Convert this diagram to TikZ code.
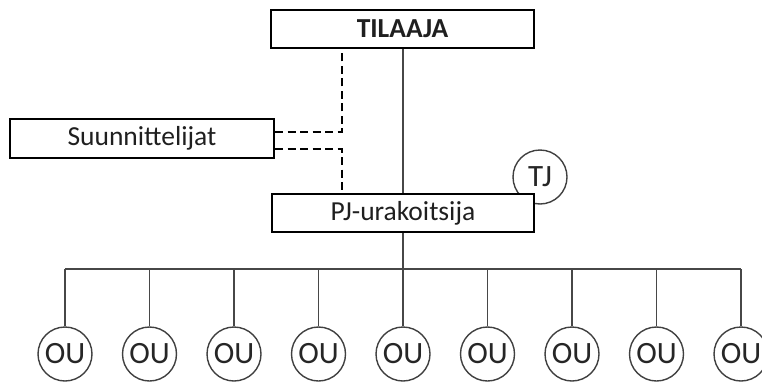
\documentclass[tikz,border=0pt]{standalone}
\usepackage{fontspec}
\setmainfont{Carlito}
\begin{document}
\begin{tikzpicture}[x=1pt,y=-1pt,
  box/.style={draw=black,line width=2.3pt,fill=white,inner sep=0pt,text=black!88,font=\fontsize{27.5}{30}\selectfont},
  ring/.style={circle,draw=black!75,line width=1.4pt,fill=white,inner sep=0pt,minimum size=54pt,text=black!85,font=\fontsize{31}{32}\selectfont},
  conn/.style={draw=black!72,line width=1.5pt},
  dashline/.style={draw=black,line width=1.5pt,dash pattern=on 8pt off 4.5pt}]
\useasboundingbox (0,0) rectangle (762,383);
\clip (0,0) rectangle (762,383);
% circles behind boxes
\node[ring] (tj) at (540,177) {TJ};
\node[box,minimum width=263pt,minimum height=38pt,font=\fontsize{27.5}{30}\selectfont\bfseries] (til) at (402.5,29) {TILAAJA};
\node[box,minimum width=264pt,minimum height=39pt] (suu) at (142,138.5) {Suunnittelijat};
\node[box,minimum width=262pt,minimum height=38pt] (pj) at (403,213) {PJ-urakoitsija};
\foreach \i in {1,...,9}{
  \node[ring] (ou\i) at ({65+84.5*(\i-1)},354) {OU};
}
\coordinate (bus) at (0,269);
\coordinate (dx) at (342,0);
% solid connectors
\draw[conn] (pj.north |- til.south) -- (pj.north);
\draw[conn] (pj.south) -- (ou5.north);
\draw[conn] (ou1.north |- bus) -- (ou9.north |- bus);
\foreach \i in {1,...,9}{
  \draw[conn] (ou\i.north) -- (ou\i.north |- bus);
}
% dashed connectors
\draw[dashline] ([yshift=6.5pt]suu.east) -| (til.south -| dx);
\draw[dashline] ([yshift=-10.5pt]suu.east) -| (pj.north -| dx);
\end{tikzpicture}
\end{document}
